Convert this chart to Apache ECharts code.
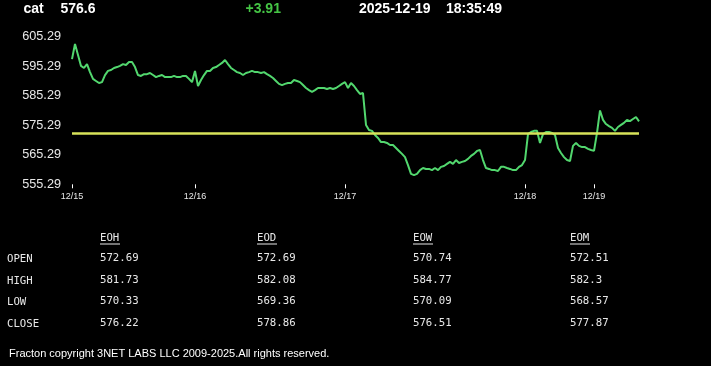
<!DOCTYPE html>
<html>
<head>
<meta charset="utf-8">
<script src="https://cdn.jsdelivr.net/npm/echarts@6/dist/echarts.min.js"></script>
<style>
html,body{margin:0;padding:0;background:#000;}
#chart{width:711px;height:366px;}
</style>
</head>
<body>
<div id="chart"></div>
<script>
// ---- header ----
const symbol = 'cat';
const lastPrice = '576.6';
const change = '+3.91';
const quoteDate = '2025-12-19';
const quoteTime = '18:35:49';

// ---- price series (intraday, oldest first) ----
const prices = [
597.7,602.8,599.1,595.4,594.7,596.0,593.3,591.0,590.3,589.6,
589.9,592.3,593.7,594.0,594.7,595.0,595.4,596.0,595.7,596.7,
596.7,595.0,592.3,592.0,592.6,592.6,593.0,592.3,591.6,592.0,
592.3,591.6,591.6,591.6,592.0,591.6,591.6,592.0,592.0,591.0,
589.9,593.7,588.6,590.6,592.3,593.7,593.7,594.7,595.0,595.7,
596.4,597.4,596.0,594.7,594.0,593.3,593.0,592.3,593.0,593.3,
593.7,593.3,593.3,593.0,593.3,592.6,592.0,591.3,590.3,589.3,
588.9,589.3,589.6,589.6,590.6,590.3,589.9,588.9,587.9,587.2,
586.6,587.2,587.9,587.9,587.9,587.6,587.9,587.6,587.9,588.6,
589.3,589.9,587.9,589.6,588.6,587.2,585.9,586.2,575.4,573.7,
573.4,572.0,571.0,569.6,569.6,569.3,568.6,568.6,567.6,566.6,
565.6,564.5,561.8,558.8,558.4,558.8,560.1,560.8,560.5,560.5,
560.1,560.8,560.1,561.2,561.5,562.2,562.9,562.2,563.5,562.5,
562.9,563.2,563.9,564.9,565.6,566.6,566.9,563.5,560.8,560.5,
560.1,560.1,559.8,561.2,561.2,560.8,560.5,560.1,560.1,561.2,
561.8,563.5,572.3,573.0,573.4,573.4,569.3,572.3,573.0,573.0,
572.7,572.0,567.6,565.9,564.5,563.5,563.2,568.3,569.3,568.3,
567.9,567.9,567.3,566.9,566.6,572.7,580.3,577.1,575.7,575.0,
574.4,573.4,574.7,575.4,576.1,577.1,576.7,577.4,578.1,576.6
];
const prevClose = 572.69;

// ---- axes ----
const tickDates = ['12/15', '12/16', '12/17', '12/18', '12/19'];
const tickIndex = [0, 41, 91, 151, 174];
const yMin = 555.29;
const yMax = 605.29;
const yStep = 10;

// ---- summary table ----
const tableCols = ['EOH', 'EOD', 'EOW', 'EOM'];
const rowLabels = ['OPEN', 'HIGH', 'LOW', 'CLOSE'];
const eoh = ['572.69', '581.73', '570.33', '576.22'];
const eod = ['572.69', '582.08', '569.36', '578.86'];
const eow = ['570.74', '584.77', '570.09', '576.51'];
const eom = ['572.51', '582.3', '568.57', '577.87'];
const footer = 'Fracton copyright 3NET LABS LLC 2009-2025.All rights reserved.';

const categories = prices.map((_, i) => String(i));
const chart = echarts.init(document.getElementById('chart'), null, {renderer: 'canvas'});

const headFont = 'bold 14px Arial, "Liberation Sans", sans-serif';
const monoFont = '10.7px "DejaVu Sans Mono", monospace';
const graphic = [
  {type: 'text', left: 23.5, top: 2, style: {text: symbol, fill: '#fff', font: headFont}},
  {type: 'text', left: 60.5, top: 2, style: {text: lastPrice, fill: '#fff', font: headFont}},
  {type: 'text', left: 245.5, top: 2, style: {text: change, fill: '#45c545', font: headFont}},
  {type: 'text', left: 359, top: 2, style: {text: quoteDate, fill: '#fff', font: headFont}},
  {type: 'text', left: 446, top: 2, style: {text: quoteTime, fill: '#fff', font: headFont}},
  {type: 'text', left: 9, top: 348, style: {text: footer, fill: '#fff', font: '11px Arial, "Liberation Sans", sans-serif'}}
];
const colX = [100, 257, 413, 570];
const rowY = [259, 281, 302.5, 324];
const cols = [eoh, eod, eow, eom];
tableCols.forEach((c, j) => {
  graphic.push({type: 'text', x: colX[j], y: 238, style: {text: c, fill: '#e8e8e8', font: monoFont, textVerticalAlign: 'middle'}});
  graphic.push({type: 'line', shape: {x1: colX[j], y1: 244, x2: colX[j] + 20, y2: 244}, style: {stroke: '#e8e8e8', lineWidth: 1}});
});
rowLabels.forEach((r, i) => {
  graphic.push({type: 'text', x: 7, y: rowY[i], style: {text: r, fill: '#e8e8e8', font: monoFont, textVerticalAlign: 'middle'}});
  cols.forEach((col, j) => {
    graphic.push({type: 'text', x: colX[j], y: rowY[i] - 1, style: {text: col[i], fill: '#e8e8e8', font: monoFont, textVerticalAlign: 'middle'}});
  });
});

const showTick = (idx) => tickIndex.indexOf(idx) >= 0;

chart.setOption({
  backgroundColor: '#000',
  animation: false,
  grid: {left: 72, right: 72, top: 36.7, bottom: 181.7, containLabel: false},
  xAxis: {
    type: 'category',
    data: categories,
    boundaryGap: false,
    axisLine: {show: false},
    axisTick: {show: true, interval: showTick, length: 4, lineStyle: {color: '#fff', width: 1}},
    axisLabel: {
      interval: showTick,
      margin: 8,
      color: '#e8e8e8',
      fontSize: 9,
      fontFamily: 'Arial, "Liberation Sans", sans-serif',
      formatter: (v, idx) => {
        const k = tickIndex.indexOf(Number(v));
        return k >= 0 ? tickDates[k] : '';
      },
      hideOverlap: false
    },
    splitLine: {show: false}
  },
  yAxis: {
    type: 'value',
    min: yMin,
    max: yMax,
    interval: yStep,
    axisLine: {show: false},
    axisTick: {show: false},
    splitLine: {show: false},
    axisLabel: {
      color: '#e8e8e8',
      fontSize: 12.7,
      margin: 11,
      fontFamily: 'Arial, "Liberation Sans", sans-serif',
      formatter: (v) => v.toFixed(2)
    }
  },
  series: [{
    type: 'line',
    data: prices,
    showSymbol: false,
    symbol: 'none',
    lineStyle: {color: '#52d76e', width: 2},
    markLine: {
      silent: true,
      symbol: ['none', 'none'],
      label: {show: false},
      lineStyle: {color: '#d8e35a', width: 2.5, type: 'solid'},
      data: [{yAxis: prevClose}]
    }
  }],
  graphic: graphic
});
</script>
</body>
</html>
